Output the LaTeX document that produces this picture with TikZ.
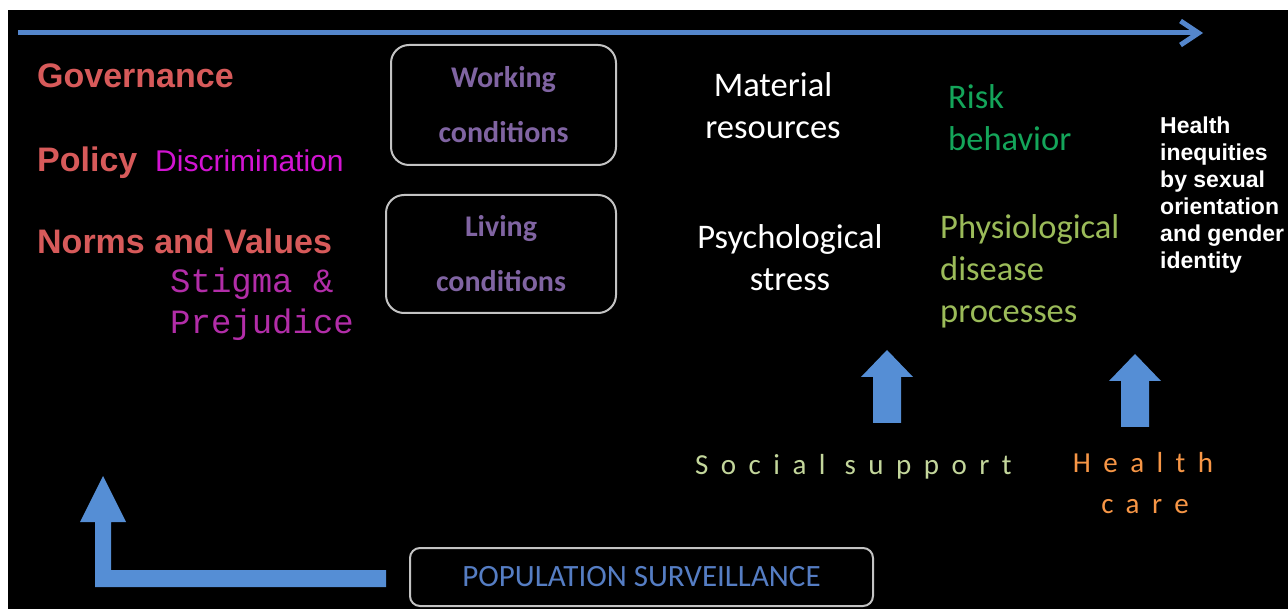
\documentclass[tikz,border=0pt]{standalone}
\usepackage{fontspec}
\usetikzlibrary{arrows.meta}
\newfontfamily\arialfont{Liberation Sans}
\newfontfamily\calfont{Carlito}
\newfontfamily\calspaced[LetterSpace=43]{Carlito}
\newfontfamily\courfont{Liberation Mono}
\definecolor{arrowblue}{RGB}{85,142,213}
\definecolor{lineblue}{RGB}{84,134,204}
\definecolor{govred}{RGB}{215,90,90}
\definecolor{discmag}{RGB}{210,20,210}
\definecolor{stigmag}{RGB}{178,45,168}
\definecolor{condpurple}{RGB}{128,100,162}
\definecolor{boxgray}{RGB}{195,195,195}
\definecolor{riskgreen}{RGB}{20,165,90}
\definecolor{physgreen}{RGB}{155,187,89}
\definecolor{supgreen}{RGB}{195,214,155}
\definecolor{careorange}{RGB}{247,150,70}
\definecolor{survblue}{RGB}{85,125,195}
% up-pointing block arrow: x centre, tip y, bottom y
\newcommand{\blockup}[3]{%
  \fill[arrowblue] (#1-14,#3) -- (#1-14,#2+27) -- (#1-26,#2+27) -- (#1,#2)
    -- (#1+26,#2+27) -- (#1+14,#2+27) -- (#1+14,#3) -- cycle;}

\begin{document}
\begin{tikzpicture}[x=1pt,y=-1pt,
  every node/.style={inner sep=0pt},
  factor/.style={font=\arialfont\bfseries\fontsize{34}{34}\selectfont, text=govred, anchor=base west},
  condbox/.style={draw=boxgray, line width=2pt, rounded corners=18pt, align=center,
    font=\calfont\bfseries\fontsize{30}{55}\selectfont, text=condpurple},
  calbig/.style={font=\calfont\fontsize{34.5}{34}\selectfont},
  outcome/.style={font=\arialfont\bfseries\fontsize{23}{23}\selectfont, text=white, anchor=base west},
  modifier/.style={font=\calspaced\fontsize{29}{29}\selectfont}]

% background
\fill[white] (0,0) rectangle (1288,609);
\fill[black] (8,10) rectangle (1288,609);

% time line
\coordinate (tl) at (18,33);
\coordinate (tr) at (1203,33);
\draw[lineblue, line width=5pt, -{Straight Barb[length=18pt,width=24pt]}] (tl) -- (tr);

% structural factors
\node[factor] (gov) at (37,88) {Governance};
\node[factor] (pol) at (37,172) {Policy};
\node[font=\arialfont\fontsize{30}{30}\selectfont, text=discmag, anchor=base west] (disc) at (155,172) {Discrimination};
\node[factor] (norms) at (37,254) {Norms and Values};
\node[font=\courfont\fontsize{34}{34}\selectfont, text=stigmag, anchor=base west] (stig) at (170,293) {Stigma \&};
\node[font=\courfont\fontsize{34}{34}\selectfont, text=stigmag, anchor=base west] (prej) at (170,334) {Prejudice};

% conditions
\node[condbox, minimum width=225pt, minimum height=120pt] (work) at (503.5,105) {Working\\conditions};
\node[condbox, minimum width=230pt, minimum height=118pt] (live) at (501,254) {Living\\conditions};

% intermediate
\node[calbig, text=white, anchor=base] (mat1) at (773,97) {Material};
\node[calbig, text=white, anchor=base] (mat2) at (773,139) {resources};
\node[calbig, text=white, anchor=base] (psy1) at (790,249) {Psychological};
\node[calbig, text=white, anchor=base] (psy2) at (790,291) {stress};
\node[calbig, text=riskgreen, anchor=base west] (risk1) at (948,109) {Risk};
\node[calbig, text=riskgreen, anchor=base west] (risk2) at (948,151) {behavior};
\node[calbig, text=physgreen, anchor=base west] (phy1) at (940,239) {Physiological};
\node[calbig, text=physgreen, anchor=base west] (phy2) at (940,281) {disease};
\node[calbig, text=physgreen, anchor=base west] (phy3) at (940,323) {processes};

% outcome
\node[outcome] (out1) at (1160,134) {Health};
\node[outcome] (out2) at (1160,161) {inequities};
\node[outcome] (out3) at (1160,188) {by sexual};
\node[outcome] (out4) at (1160,215) {orientation};
\node[outcome] (out5) at (1160,242) {and gender};
\node[outcome] (out6) at (1160,269) {identity};

% modifiers
\blockup{887}{350}{423}
\blockup{1135}{354}{427}
\node[modifier, text=supgreen, anchor=base west] (sup) at (695,475) {Social support};
\node[modifier, text=careorange, anchor=base] (care1) at (1143,472) {Health};
\node[modifier, text=careorange, anchor=base] (care2) at (1145,513) {care};

% surveillance
\node[draw=boxgray, line width=2pt, rounded corners=10pt, minimum width=463pt, minimum height=58pt,
  font=\calfont\fontsize{31}{31}\selectfont, text=survblue] (surv) at (641.5,577) {POPULATION SURVEILLANCE};
\fill[arrowblue] (386,570) -- (111,570) -- (111,522) -- (126,522) -- (103,476)
  -- (80,522) -- (95,522) -- (95,587) -- (386,587) -- cycle;
\end{tikzpicture}
\end{document}
